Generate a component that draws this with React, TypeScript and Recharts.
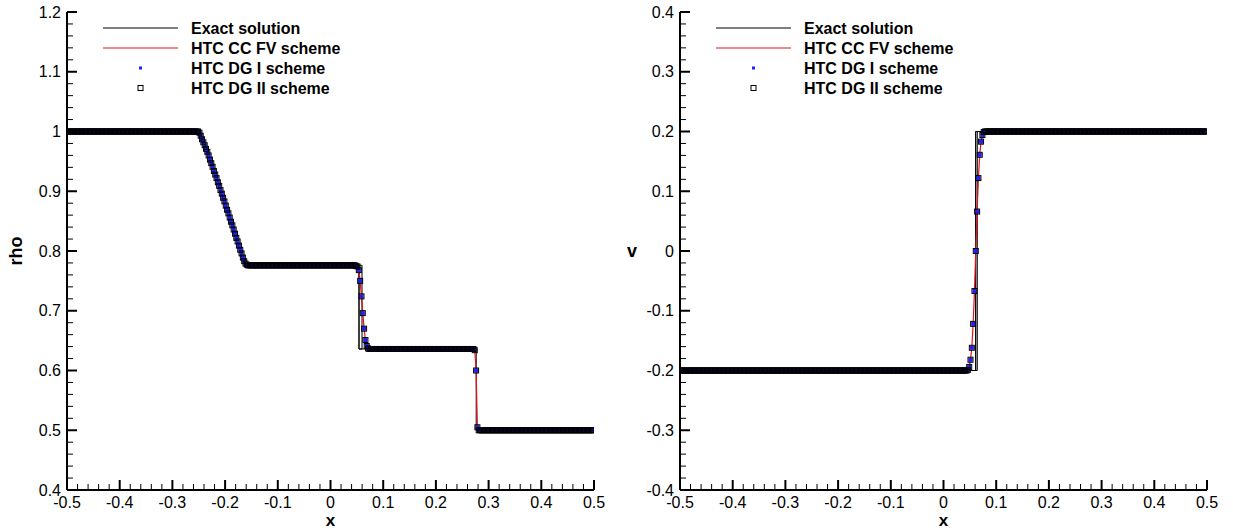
import React from "react";
import { ComposedChart, Line, XAxis, YAxis } from "recharts";

// tick labels
const xMajor = [-0.5, -0.4, -0.3, -0.2, -0.1, 0, 0.1, 0.2, 0.3, 0.4, 0.5];
const rhoMajor = [0.4, 0.5, 0.6, 0.7, 0.8, 0.9, 1, 1.1, 1.2];
const vMajor = [-0.4, -0.3, -0.2, -0.1, 0, 0.1, 0.2, 0.3, 0.4];

// 400 cell centres on [-0.5, 0.5]
const meshX = Array.from({ length: 400 }, (_, i) => -0.49875 + 0.0025 * i);

// numerical density (HTC schemes), 20 cells per row
const rhoNum = [
  1, 1, 1, 1, 1, 1, 1, 1, 1, 1, 1, 1, 1, 1, 1, 1, 1, 1, 1, 1,
  1, 1, 1, 1, 1, 1, 1, 1, 1, 1, 1, 1, 1, 1, 1, 1, 1, 1, 1, 1,
  1, 1, 1, 1, 1, 1, 1, 1, 1, 1, 1, 1, 1, 1, 1, 1, 1, 1, 1, 1,
  1, 1, 1, 1, 1, 1, 1, 1, 1, 1, 1, 1, 1, 1, 1, 1, 1, 1, 1, 1,
  1, 1, 1, 1, 1, 1, 1, 1, 1, 1, 1, 1, 1, 1, 1, 1, 1, 1, 1, 1,
  0.998, 0.993, 0.987, 0.982, 0.977, 0.971, 0.966, 0.96, 0.953, 0.947, 0.941, 0.934, 0.928, 0.922, 0.915, 0.909, 0.902, 0.896, 0.889, 0.883,
  0.876, 0.869, 0.863, 0.856, 0.849, 0.843, 0.836, 0.829, 0.822, 0.816, 0.809, 0.802, 0.796, 0.789, 0.783, 0.779, 0.777, 0.776, 0.776, 0.776,
  0.776, 0.776, 0.776, 0.776, 0.776, 0.776, 0.776, 0.776, 0.776, 0.776, 0.776, 0.776, 0.776, 0.776, 0.776, 0.776, 0.776, 0.776, 0.776, 0.776,
  0.776, 0.776, 0.776, 0.776, 0.776, 0.776, 0.776, 0.776, 0.776, 0.776, 0.776, 0.776, 0.776, 0.776, 0.776, 0.776, 0.776, 0.776, 0.776, 0.776,
  0.776, 0.776, 0.776, 0.776, 0.776, 0.776, 0.776, 0.776, 0.776, 0.776, 0.776, 0.776, 0.776, 0.776, 0.776, 0.776, 0.776, 0.776, 0.776, 0.776,
  0.776, 0.776, 0.776, 0.776, 0.776, 0.776, 0.776, 0.776, 0.776, 0.776, 0.776, 0.776, 0.776, 0.776, 0.776, 0.776, 0.776, 0.776, 0.776, 0.775,
  0.774, 0.768, 0.75, 0.724, 0.696, 0.67, 0.651, 0.641, 0.637, 0.636, 0.636, 0.636, 0.636, 0.636, 0.636, 0.636, 0.636, 0.636, 0.636, 0.636,
  0.636, 0.636, 0.636, 0.636, 0.636, 0.636, 0.636, 0.636, 0.636, 0.636, 0.636, 0.636, 0.636, 0.636, 0.636, 0.636, 0.636, 0.636, 0.636, 0.636,
  0.636, 0.636, 0.636, 0.636, 0.636, 0.636, 0.636, 0.636, 0.636, 0.636, 0.636, 0.636, 0.636, 0.636, 0.636, 0.636, 0.636, 0.636, 0.636, 0.636,
  0.636, 0.636, 0.636, 0.636, 0.636, 0.636, 0.636, 0.636, 0.636, 0.636, 0.636, 0.636, 0.636, 0.636, 0.636, 0.636, 0.636, 0.636, 0.636, 0.636,
  0.636, 0.636, 0.636, 0.636, 0.636, 0.636, 0.636, 0.636, 0.636, 0.634, 0.6, 0.505, 0.5, 0.5, 0.5, 0.5, 0.5, 0.5, 0.5, 0.5,
  0.5, 0.5, 0.5, 0.5, 0.5, 0.5, 0.5, 0.5, 0.5, 0.5, 0.5, 0.5, 0.5, 0.5, 0.5, 0.5, 0.5, 0.5, 0.5, 0.5,
  0.5, 0.5, 0.5, 0.5, 0.5, 0.5, 0.5, 0.5, 0.5, 0.5, 0.5, 0.5, 0.5, 0.5, 0.5, 0.5, 0.5, 0.5, 0.5, 0.5,
  0.5, 0.5, 0.5, 0.5, 0.5, 0.5, 0.5, 0.5, 0.5, 0.5, 0.5, 0.5, 0.5, 0.5, 0.5, 0.5, 0.5, 0.5, 0.5, 0.5,
  0.5, 0.5, 0.5, 0.5, 0.5, 0.5, 0.5, 0.5, 0.5, 0.5, 0.5, 0.5, 0.5, 0.5, 0.5, 0.5, 0.5, 0.5, 0.5, 0.5,
];

// numerical velocity, same mesh
const vNum = [
  -0.2, -0.2, -0.2, -0.2, -0.2, -0.2, -0.2, -0.2, -0.2, -0.2, -0.2, -0.2, -0.2, -0.2, -0.2, -0.2, -0.2, -0.2, -0.2, -0.2,
  -0.2, -0.2, -0.2, -0.2, -0.2, -0.2, -0.2, -0.2, -0.2, -0.2, -0.2, -0.2, -0.2, -0.2, -0.2, -0.2, -0.2, -0.2, -0.2, -0.2,
  -0.2, -0.2, -0.2, -0.2, -0.2, -0.2, -0.2, -0.2, -0.2, -0.2, -0.2, -0.2, -0.2, -0.2, -0.2, -0.2, -0.2, -0.2, -0.2, -0.2,
  -0.2, -0.2, -0.2, -0.2, -0.2, -0.2, -0.2, -0.2, -0.2, -0.2, -0.2, -0.2, -0.2, -0.2, -0.2, -0.2, -0.2, -0.2, -0.2, -0.2,
  -0.2, -0.2, -0.2, -0.2, -0.2, -0.2, -0.2, -0.2, -0.2, -0.2, -0.2, -0.2, -0.2, -0.2, -0.2, -0.2, -0.2, -0.2, -0.2, -0.2,
  -0.2, -0.2, -0.2, -0.2, -0.2, -0.2, -0.2, -0.2, -0.2, -0.2, -0.2, -0.2, -0.2, -0.2, -0.2, -0.2, -0.2, -0.2, -0.2, -0.2,
  -0.2, -0.2, -0.2, -0.2, -0.2, -0.2, -0.2, -0.2, -0.2, -0.2, -0.2, -0.2, -0.2, -0.2, -0.2, -0.2, -0.2, -0.2, -0.2, -0.2,
  -0.2, -0.2, -0.2, -0.2, -0.2, -0.2, -0.2, -0.2, -0.2, -0.2, -0.2, -0.2, -0.2, -0.2, -0.2, -0.2, -0.2, -0.2, -0.2, -0.2,
  -0.2, -0.2, -0.2, -0.2, -0.2, -0.2, -0.2, -0.2, -0.2, -0.2, -0.2, -0.2, -0.2, -0.2, -0.2, -0.2, -0.2, -0.2, -0.2, -0.2,
  -0.2, -0.2, -0.2, -0.2, -0.2, -0.2, -0.2, -0.2, -0.2, -0.2, -0.2, -0.2, -0.2, -0.2, -0.2, -0.2, -0.2, -0.2, -0.2, -0.2,
  -0.2, -0.2, -0.2, -0.2, -0.2, -0.2, -0.2, -0.2, -0.2, -0.2, -0.2, -0.2, -0.2, -0.2, -0.2, -0.2, -0.2, -0.2, -0.199, -0.194,
  -0.182, -0.162, -0.122, -0.067, 0, 0.066, 0.122, 0.161, 0.183, 0.194, 0.199, 0.2, 0.2, 0.2, 0.2, 0.2, 0.2, 0.2, 0.2, 0.2,
  0.2, 0.2, 0.2, 0.2, 0.2, 0.2, 0.2, 0.2, 0.2, 0.2, 0.2, 0.2, 0.2, 0.2, 0.2, 0.2, 0.2, 0.2, 0.2, 0.2,
  0.2, 0.2, 0.2, 0.2, 0.2, 0.2, 0.2, 0.2, 0.2, 0.2, 0.2, 0.2, 0.2, 0.2, 0.2, 0.2, 0.2, 0.2, 0.2, 0.2,
  0.2, 0.2, 0.2, 0.2, 0.2, 0.2, 0.2, 0.2, 0.2, 0.2, 0.2, 0.2, 0.2, 0.2, 0.2, 0.2, 0.2, 0.2, 0.2, 0.2,
  0.2, 0.2, 0.2, 0.2, 0.2, 0.2, 0.2, 0.2, 0.2, 0.2, 0.2, 0.2, 0.2, 0.2, 0.2, 0.2, 0.2, 0.2, 0.2, 0.2,
  0.2, 0.2, 0.2, 0.2, 0.2, 0.2, 0.2, 0.2, 0.2, 0.2, 0.2, 0.2, 0.2, 0.2, 0.2, 0.2, 0.2, 0.2, 0.2, 0.2,
  0.2, 0.2, 0.2, 0.2, 0.2, 0.2, 0.2, 0.2, 0.2, 0.2, 0.2, 0.2, 0.2, 0.2, 0.2, 0.2, 0.2, 0.2, 0.2, 0.2,
  0.2, 0.2, 0.2, 0.2, 0.2, 0.2, 0.2, 0.2, 0.2, 0.2, 0.2, 0.2, 0.2, 0.2, 0.2, 0.2, 0.2, 0.2, 0.2, 0.2,
  0.2, 0.2, 0.2, 0.2, 0.2, 0.2, 0.2, 0.2, 0.2, 0.2, 0.2, 0.2, 0.2, 0.2, 0.2, 0.2, 0.2, 0.2, 0.2, 0.2,
];

// exact solution polylines [x, value]
const rhoExact = [
  [-0.5, 1], [-0.2476, 1], [-0.2262, 0.945], [-0.2048, 0.889], [-0.1834, 0.834], [-0.162, 0.776],
  [0.0598, 0.776], [0.0598, 0.636], [0.0541, 0.636], [0.0541, 0.776], [0.0541, 0.636],
  [0.2765, 0.636], [0.2765, 0.5], [0.5, 0.5],
];
const vExact = [
  [-0.5, -0.2], [0.0641, -0.2], [0.0641, 0.2], [0.0611, 0.2], [0.0611, -0.2], [0.0611, 0.2], [0.5, 0.2],
];

const legendNames = ["Exact solution", "HTC CC FV scheme", "HTC DG I scheme", "HTC DG II scheme"];

const FONT = '"Liberation Sans", Arial, Helvetica, sans-serif';
const PLOT_BOTTOM = 490;

const toPts = (vals: number[]) => meshX.map((x, i) => ({ x, y: vals[i] }));
const pairPts = (pairs: number[][]) => pairs.map(([x, y]) => ({ x, y }));

const withMinor = (majors: number[]) => {
  const out: number[] = [];
  for (let k = 0; k < majors.length; k++) {
    out.push(majors[k]);
    if (k < majors.length - 1) {
      for (let m = 1; m < 5; m++) out.push(majors[k] + (majors[k + 1] - majors[k]) * m / 5);
    }
  }
  return out;
};
const isMajor = (v: number) => Math.abs(v * 10 - Math.round(v * 10)) < 1e-6;
const fmt = (v: number) => String(Math.round(v * 10) / 10);

const blueDot = (p: any) => (
  <rect key={`b${p.index}`} x={p.cx - 2} y={p.cy - 2} width={4} height={4} fill="#1f1fff" />
);
const openSquare = (p: any) => (
  <rect key={`s${p.index}`} x={p.cx - 2.5} y={p.cy - 2.5} width={5} height={5} fill="none" stroke="#000" strokeWidth={1} />
);

type PanelProps = {
  left: number;
  width: number;
  marginLeft: number;
  marginRight: number;
  yDomain: number[];
  yMajor: number[];
  yTitle: string;
  rotateTitle: boolean;
  exact: number[][];
  num: number[];
};

const Panel = ({ left, width, marginLeft, marginRight, yDomain, yMajor, yTitle, rotateTitle, exact, num }: PanelProps) => {
  const plotLeft = marginLeft + 57;
  const plotRight = width - marginRight;
  const numPts = toPts(num);

  const xTick = (p: any) => {
    const c = p.payload.coordinate ?? p.x;
    const major = isMajor(p.payload.value);
    return (
      <g key={`xt${p.index}`}>
        <line x1={c} x2={c} y1={PLOT_BOTTOM} y2={PLOT_BOTTOM - (major ? 10 : 6)} stroke="#000" strokeWidth={major ? 2 : 1} />
        {major && (
          <text x={c} y={PLOT_BOTTOM + 12} textAnchor="middle" dominantBaseline="central" fontFamily={FONT} fontSize={16} fill="#000">
            {fmt(p.payload.value)}
          </text>
        )}
      </g>
    );
  };
  const yTick = (p: any) => {
    const c = p.payload.coordinate ?? p.y;
    const major = isMajor(p.payload.value);
    return (
      <g key={`yt${p.index}`}>
        <line x1={plotLeft} x2={plotLeft + (major ? 10 : 6)} y1={c} y2={c} stroke="#000" strokeWidth={major ? 2 : 1} />
        {major && (
          <text x={plotLeft - 6} y={c} textAnchor="end" dominantBaseline="central" fontFamily={FONT} fontSize={16} fill="#000">
            {fmt(p.payload.value)}
          </text>
        )}
      </g>
    );
  };

  const lx = plotLeft + 36; // legend line start
  const tx = plotLeft + 124; // legend text start
  const midY = (12 + PLOT_BOTTOM) / 2;

  return (
    <div style={{ position: "absolute", left, top: 0, width, height: 531 }}>
      <ComposedChart width={width} height={531} margin={{ top: 12, right: marginRight, bottom: 10, left: marginLeft }}>
        <XAxis
          type="number"
          dataKey="x"
          domain={[-0.5, 0.5]}
          ticks={withMinor(xMajor)}
          interval={0}
          allowDataOverflow
          height={31}
          tickLine={false}
          axisLine={{ stroke: "#000", strokeWidth: 2 }}
          tick={xTick}
        />
        <YAxis
          type="number"
          dataKey="y"
          domain={yDomain}
          ticks={withMinor(yMajor)}
          interval={0}
          allowDataOverflow
          width={57}
          tickLine={false}
          axisLine={{ stroke: "#000", strokeWidth: 2 }}
          tick={yTick}
        />
        <Line data={pairPts(exact)} dataKey="y" type="linear" stroke="#000" strokeWidth={1} dot={false} isAnimationActive={false} />
        <Line data={numPts} dataKey="y" type="linear" stroke="#e3121b" strokeWidth={1.2} dot={false} isAnimationActive={false} />
        <Line data={numPts} dataKey="y" type="linear" stroke="none" dot={blueDot} isAnimationActive={false} />
        <Line data={numPts} dataKey="y" type="linear" stroke="none" dot={openSquare} isAnimationActive={false} />
      </ComposedChart>
      <svg width={width} height={531} style={{ position: "absolute", left: 0, top: 0, pointerEvents: "none" }}>
        <line x1={lx} x2={lx + 75} y1={28} y2={28} stroke="#000" strokeWidth={1} />
        <line x1={lx} x2={lx + 75} y1={48} y2={48} stroke="#e3121b" strokeWidth={1.2} />
        <rect x={lx + 36} y={66.5} width={3} height={3} fill="#1f1fff" />
        <rect x={lx + 35} y={85.5} width={5} height={5} fill="none" stroke="#000" strokeWidth={1} />
        {legendNames.map((n, k) => (
          <text key={n} x={tx} y={28 + 20 * k} dominantBaseline="central" fontFamily={FONT} fontWeight="bold" fontSize={16} fill="#000">
            {n}
          </text>
        ))}
        <text
          x={16}
          y={midY}
          textAnchor="middle"
          dominantBaseline="central"
          fontFamily={FONT}
          fontWeight="bold"
          fontSize={18}
          transform={rotateTitle ? `rotate(-90 16 ${midY})` : undefined}
        >
          {yTitle}
        </text>
        <text x={(plotLeft + plotRight) / 2} y={526} textAnchor="middle" fontFamily={FONT} fontWeight="bold" fontSize={17}>
          x
        </text>
      </svg>
    </div>
  );
}

export default function App() {
  return (
    <div style={{ position: "absolute", left: 0, top: 0, width: 1233, height: 531, background: "#fff" }}>
      <Panel left={0} width={616} marginLeft={10} marginRight={22} yDomain={[0.4, 1.2]} yMajor={rhoMajor} yTitle="rho" rotateTitle exact={rhoExact} num={rhoNum} />
      <Panel left={616} width={617} marginLeft={7} marginRight={26} yDomain={[-0.4, 0.4]} yMajor={vMajor} yTitle="v" rotateTitle={false} exact={vExact} num={vNum} />
    </div>
  );
}
